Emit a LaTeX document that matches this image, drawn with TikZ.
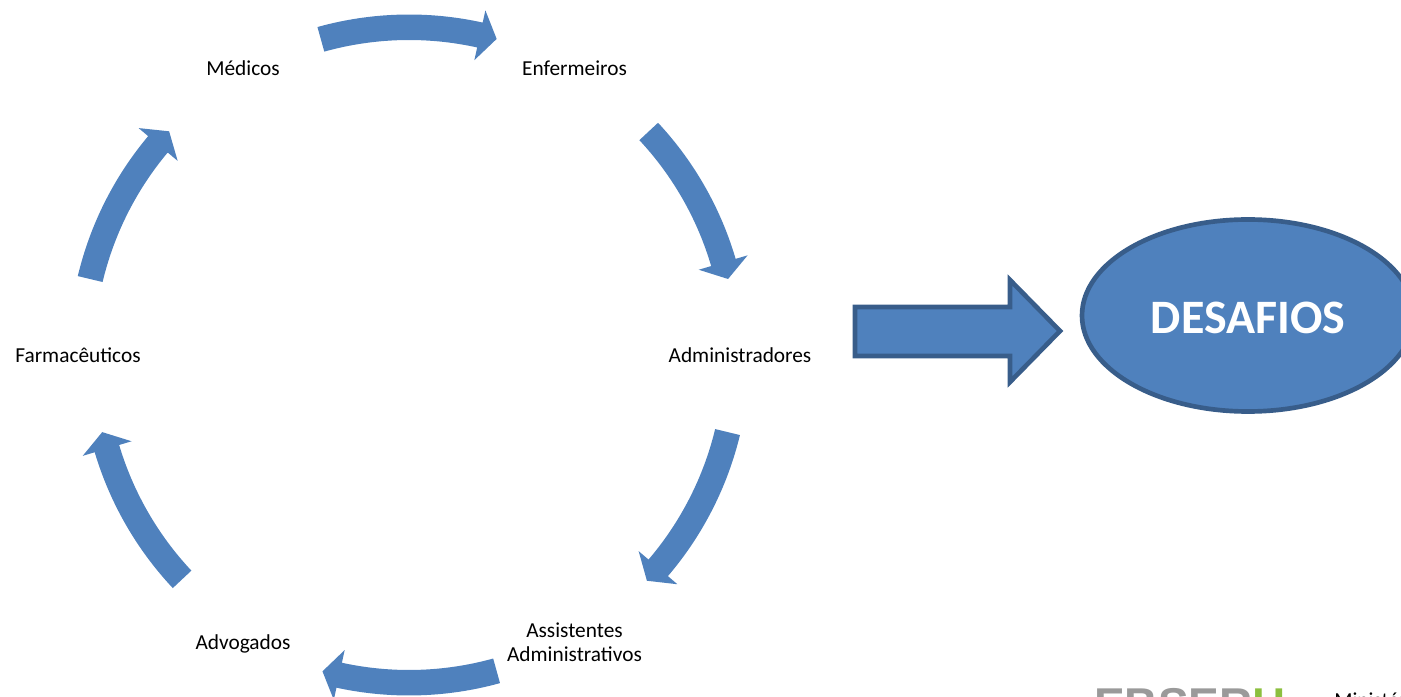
\documentclass[tikz,border=0pt]{standalone}
\usepackage{fontspec}
\setmainfont{Carlito}
\newfontfamily\logofont{Liberation Sans}
\usetikzlibrary{shapes.geometric}
\definecolor{flowblue}{RGB}{79,129,189}
\definecolor{flowedge}{RGB}{56,93,138}
\definecolor{logogray}{RGB}{154,154,154}
\definecolor{logogreen}{RGB}{140,191,63}
\tikzset{
	role/.style={font=\fontsize{16}{18}\selectfont, align=center, inner sep=0pt},
	flowarrow/.style={fill=flowblue},
	bigshape/.style={draw=flowedge, line width=3.5pt, fill=flowblue, miter limit=10}
}

\begin{document}
\begin{tikzpicture}[x=0.75pt, y=0.75pt]
		\clip (0,0) rectangle (1401,696);
		% labels
		\node[role] (medicos) at (243,627.5) {Médicos};
		\node[role] (enfermeiros) at (574.5,627.5) {Enfermeiros};
		\node[role] (administradores) at (740,340.5) {Administradores};
		\node[role] (assistentes) at (574.5,53.5) {Assistentes\\Administrativos};
		\node[role] (advogados) at (243,52.5) {Advogados};
		\node[role] (farmaceuticos) at (78,340.5) {Farmacêuticos};
		% ring of arrows: tail angle / tip angle / centre x
		\foreach \tail/\tip/\cx in {105.6/74.5/409, 43/13.4/409, -13.6/-43.5/409, -74.5/-105.3/409, -136.8/-166.4/421, 166.6/137/409} {
			\pgfmathsetmacro{\neck}{\tip+3}
			\begin{scope}[shift={(\cx,341)}]
				\fill[flowarrow] (\tail:340.5) arc[start angle=\tail, end angle=\neck, radius=340.5] -- (\neck:353) -- (\tip:328) -- (\neck:302) -- (\neck:315) arc[start angle=\neck, end angle=\tail, radius=315] -- cycle;
			\end{scope}
		}
		% big arrow and ellipse
		\draw[bigshape] (855,340) -- (1010,340) -- (1010,314) -- (1060,365) -- (1010,416) -- (1010,389) -- (855,389) -- cycle;
		\node[ellipse, bigshape, minimum width=249pt, minimum height=144pt, inner sep=0pt, text height=26.5pt, text depth=0pt, font=\fontsize{36}{40}\selectfont\bfseries, text=white] (desafios) at (1248,380.5) {DESAFIOS};
		% logo, cut off by the page edge
		\node[anchor=base west, inner sep=0pt, font=\logofont\fontsize{34.5}{36}\selectfont\bfseries, text=logogray] (logo) at (1094,-24) {EBSER\textcolor{logogreen}{H}};
		\node[anchor=base west, inner sep=0pt, font=\fontsize{16}{18}\selectfont] (ministerio) at (1334,-11) {Ministério};
	\end{tikzpicture}
\end{document}
